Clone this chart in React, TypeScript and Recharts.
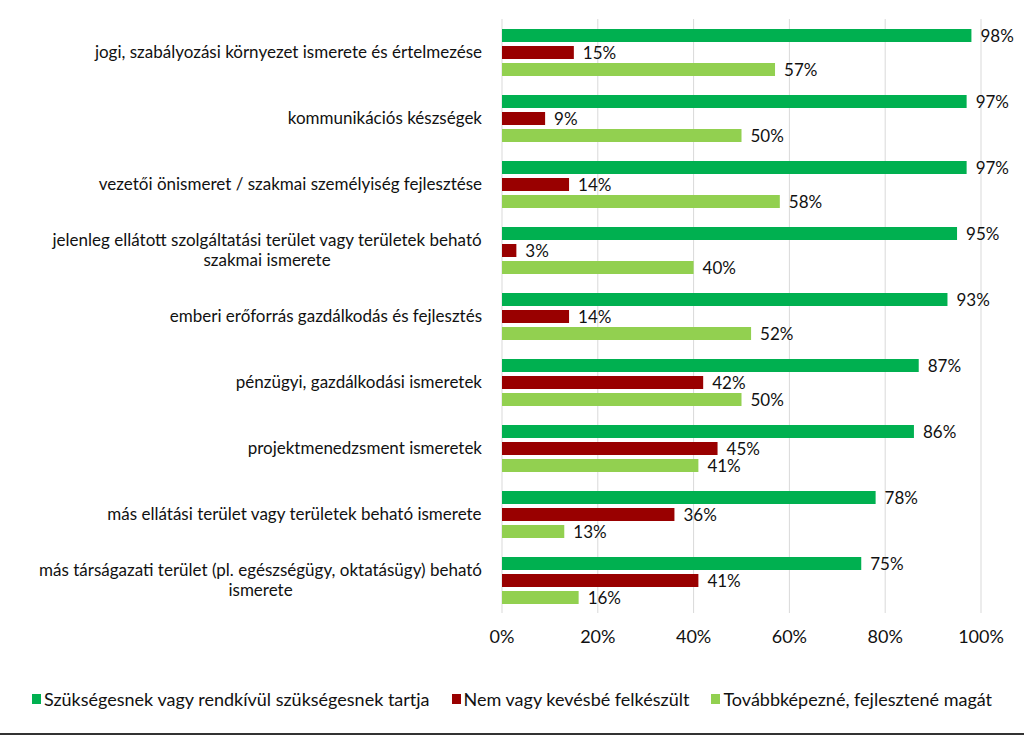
import { BarChart, Bar, XAxis, YAxis, CartesianGrid, LabelList } from 'recharts';

const categories = [
  'jogi, szabályozási környezet ismerete és értelmezése',
  'kommunikációs készségek',
  'vezetői önismeret / szakmai személyiség fejlesztése',
  'jelenleg ellátott szolgáltatási terület vagy területek beható szakmai ismerete',
  'emberi erőforrás gazdálkodás és fejlesztés',
  'pénzügyi, gazdálkodási ismeretek',
  'projektmenedzsment ismeretek',
  'más ellátási terület vagy területek beható ismerete',
  'más társágazati terület (pl. egészségügy, oktatásügy) beható ismerete',
];

const needed = [0.98, 0.97, 0.97, 0.95, 0.93, 0.87, 0.86, 0.78, 0.75];
const unprepared = [0.15, 0.09, 0.14, 0.03, 0.14, 0.42, 0.45, 0.36, 0.41];
const training = [0.57, 0.5, 0.58, 0.4, 0.52, 0.5, 0.41, 0.13, 0.16];

const xTicks = [0, 0.2, 0.4, 0.6, 0.8, 1];

const seriesNames = [
  'Szükségesnek vagy rendkívül szükségesnek tartja',
  'Nem vagy kevésbé felkészült',
  'Továbbképezné, fejlesztené magát',
];
const colors = ['#00b050', '#990000', '#92d050'];

const data = categories.map((name, i) => ({
  name,
  needed: needed[i],
  unprepared: unprepared[i],
  training: training[i],
}));

const FONT = 'Lato, "Open Sans", sans-serif';
const pct = (v: number) => `${Math.round(v * 100)}%`;

let ctx: CanvasRenderingContext2D | null = null;
function measure(text: string) {
  if (!ctx) ctx = document.createElement('canvas').getContext('2d');
  if (!ctx) return text.length * 8;
  ctx.font = `17px ${FONT}`;
  return ctx.measureText(text).width;
}

// break long category names into lines of at most ~62 characters
function wrap(text: string, maxChars: number) {
  const words = text.split(' ');
  const lines: string[] = [];
  let cur = '';
  words.forEach((w) => {
    const next = cur ? cur + ' ' + w : w;
    if (next.length > maxChars && cur) {
      lines.push(cur);
      cur = w;
    } else cur = next;
  });
  if (cur) lines.push(cur);
  return lines;
}

const CategoryTick = (props: any) => {
  const { x, y, payload } = props;
  const lines = wrap(payload.value, 62);
  const blockW = Math.max(...lines.map(measure));
  const cx = x - blockW / 2;
  const lineH = 20;
  const startY = y - ((lines.length - 1) * lineH) / 2;
  return (
    <text textAnchor="middle" fontFamily={FONT} fontSize={17} fill="#111">
      {lines.map((l, i) => (
        <tspan key={i} x={cx} y={startY + i * lineH} dy="0.35em">
          {l}
        </tspan>
      ))}
    </text>
  );
};

export default function App() {
  return (
    <div style={{ position: 'absolute', left: 0, top: 0, width: 1024, height: 737, background: '#fff' }}>
      <BarChart
        width={1024}
        height={660}
        data={data}
        layout="vertical"
        margin={{ top: 19, right: 43, bottom: 0, left: 0 }}
        barSize={13}
        barGap={4}
      >
        <CartesianGrid horizontal={false} stroke="#d9d9d9" />
        <XAxis
          type="number"
          domain={[0, 1]}
          ticks={xTicks}
          tickFormatter={pct}
          height={47}
          axisLine={false}
          tickLine={false}
          tickMargin={11}
          tick={{ fontFamily: FONT, fontSize: 18, fill: '#111' }}
        />
        <YAxis
          type="category"
          dataKey="name"
          width={502}
          axisLine={false}
          tickLine={false}
          tickMargin={14}
          interval={0}
          tick={<CategoryTick />}
        />
        {(['needed', 'unprepared', 'training'] as const).map((key, i) => (
          <Bar key={key} dataKey={key} name={seriesNames[i]} fill={colors[i]} isAnimationActive={false}>
            <LabelList
              dataKey={key}
              position="right"
              offset={9}
              formatter={(v: any) => pct(v)}
              style={{ fontFamily: FONT, fontSize: 17, fill: '#111' }}
            />
          </Bar>
        ))}
      </BarChart>
      <div
        style={{
          position: 'absolute',
          top: 688,
          left: 0,
          width: 1024,
          display: 'flex',
          justifyContent: 'center',
          fontFamily: FONT,
          fontSize: 18,
          color: '#111',
          gap: 22,
        }}
      >
        {seriesNames.map((n, i) => (
          <div key={n} style={{ display: 'flex', alignItems: 'center' }}>
            <span style={{ width: 9, height: 10, background: colors[i], marginRight: 3, display: 'inline-block' }} />
            <span>{n}</span>
          </div>
        ))}
      </div>
      <div style={{ position: 'absolute', left: 0, top: 733, width: 1024, height: 2, background: '#333' }} />
    </div>
  );
}
